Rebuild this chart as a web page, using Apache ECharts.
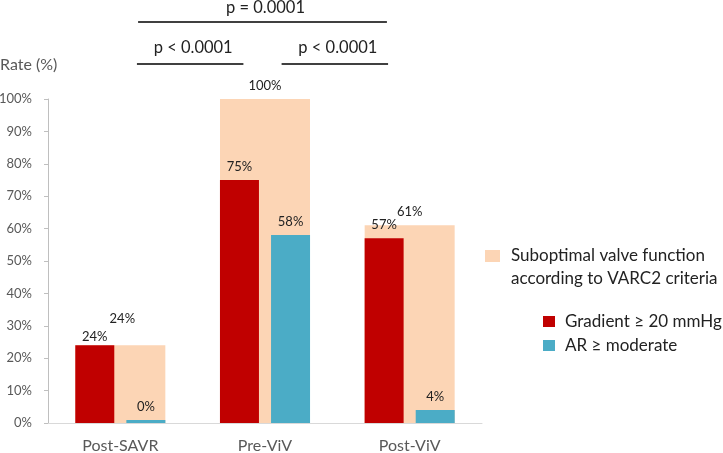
<!DOCTYPE html>
<html>
<head>
<meta charset="utf-8">
<script src="https://cdn.jsdelivr.net/npm/echarts@6/dist/echarts.min.js"></script>
<style>
html,body{margin:0;padding:0;background:#fff;}
#chart{width:723px;height:453px;}
</style>
</head>
<body>
<div id="chart"></div>
<script>
const categories = ['Post-SAVR', 'Pre-ViV', 'Post-ViV'];
const suboptimal = [24, 100, 61];
const gradient = [24, 75, 57];
const arModerate = [0.9, 58, 4];
const seriesNames = ['Suboptimal valve function\naccording to VARC2 criteria', 'Gradient \u2265 20 mmHg', 'AR \u2265 moderate'];
const comparisons = [
  { from: 0, to: 2, text: 'p = 0.0001', row: 0 },
  { from: 0, to: 1, text: 'p < 0.0001', row: 1 },
  { from: 1, to: 2, text: 'p < 0.0001', row: 1 }
];

const FONT = 'Lato';
const chart = echarts.init(document.getElementById('chart'), null, { renderer: 'canvas' });
const pct = p => Math.floor(p.value) + '%';
const valLabel = { show: true, position: 'top', distance: 7, formatter: pct, color: '#222', fontSize: 13, fontFamily: FONT };

chart.setOption({
  animation: false,
  backgroundColor: '#fff',
  title: { text: 'Rate (%)', left: 0, top: 57, padding: 0,
    textStyle: { fontSize: 16, fontWeight: 'normal', color: '#595959', fontFamily: FONT } },
  grid: { left: 48, right: 241, top: 99, bottom: 30, containLabel: false, outerBoundsMode: 'none' },
  legend: [
    { data: [seriesNames[0]], left: 485, top: 221.5, padding: 0, itemWidth: 15, itemHeight: 12,
      icon: 'rect', selectedMode: false,
      formatter: n => ' \n' + n,
      textStyle: { fontSize: 17, color: '#222', fontFamily: FONT, lineHeight: 23, padding: [0, 0, 0, 6] } },
    { data: [seriesNames[1], seriesNames[2]], orient: 'vertical', left: 543, top: 313, padding: 0,
      itemWidth: 12, itemHeight: 11, itemGap: 7, icon: 'rect', selectedMode: false,
      textStyle: { fontSize: 17, color: '#222', fontFamily: FONT, padding: [0, 0, 0, 5] } }
  ],
  xAxis: [
    { type: 'category', data: categories,
      axisLine: { lineStyle: { color: '#d9d9d9', width: 1 } },
      axisTick: { show: false },
      axisLabel: { color: '#595959', fontSize: 16, fontFamily: FONT, margin: 15 } },
    { type: 'category', data: categories, show: false }
  ],
  yAxis: {
    type: 'value', min: 0, max: 100, interval: 10,
    axisLine: { show: true, lineStyle: { color: '#bfbfbf' } },
    axisTick: { show: true, length: 4, lineStyle: { color: '#bfbfbf' } },
    splitLine: { show: false },
    axisLabel: { formatter: '{value}%', color: '#595959', fontSize: 13, fontFamily: FONT, margin: 16 }
  },
  series: [
    { name: seriesNames[0], type: 'bar', xAxisIndex: 0, barWidth: 90,
      itemStyle: { color: '#fcd5b5' },
      label: valLabel,
      data: suboptimal.map((v, i) => i === 0 ? { value: v, label: { offset: [2, -13] } } : v) },
    { name: seriesNames[1], type: 'bar', xAxisIndex: 1, barWidth: 39, barGap: '31%',
      itemStyle: { color: '#c00000' },
      label: valLabel,
      data: gradient.map((v, i) => i === 0 ? { value: v, label: { offset: [0, 5] } } : v) },
    { name: seriesNames[2], type: 'bar', xAxisIndex: 1, barWidth: 39, barGap: '31%',
      itemStyle: { color: '#4bacc6' },
      label: valLabel,
      data: arModerate }
  ]
});

// significance brackets
const px = categories.map(c => chart.convertToPixel({ xAxisIndex: 0 }, c));
const rowLineY = [22, 64];
const rowTextY = [8, 48];
const graphics = [];
comparisons.forEach(c => {
  const span = px[c.to] - px[c.from];
  const mid = (px[c.from] + px[c.to]) / 2 - 2.5;
  const half = c.to - c.from === 2 ? span * 0.43 : span * 0.368;
  graphics.push({ type: 'line', shape: { x1: mid - half, y1: rowLineY[c.row], x2: mid + half, y2: rowLineY[c.row] },
    style: { stroke: '#404040', lineWidth: 2 } });
  graphics.push({ type: 'text', x: mid + 3, y: rowTextY[c.row],
    style: { text: c.text, fill: '#222', font: '16.5px ' + FONT, textAlign: 'center', textVerticalAlign: 'middle' } });
});
chart.setOption({ graphic: graphics });
</script>
</body>
</html>
